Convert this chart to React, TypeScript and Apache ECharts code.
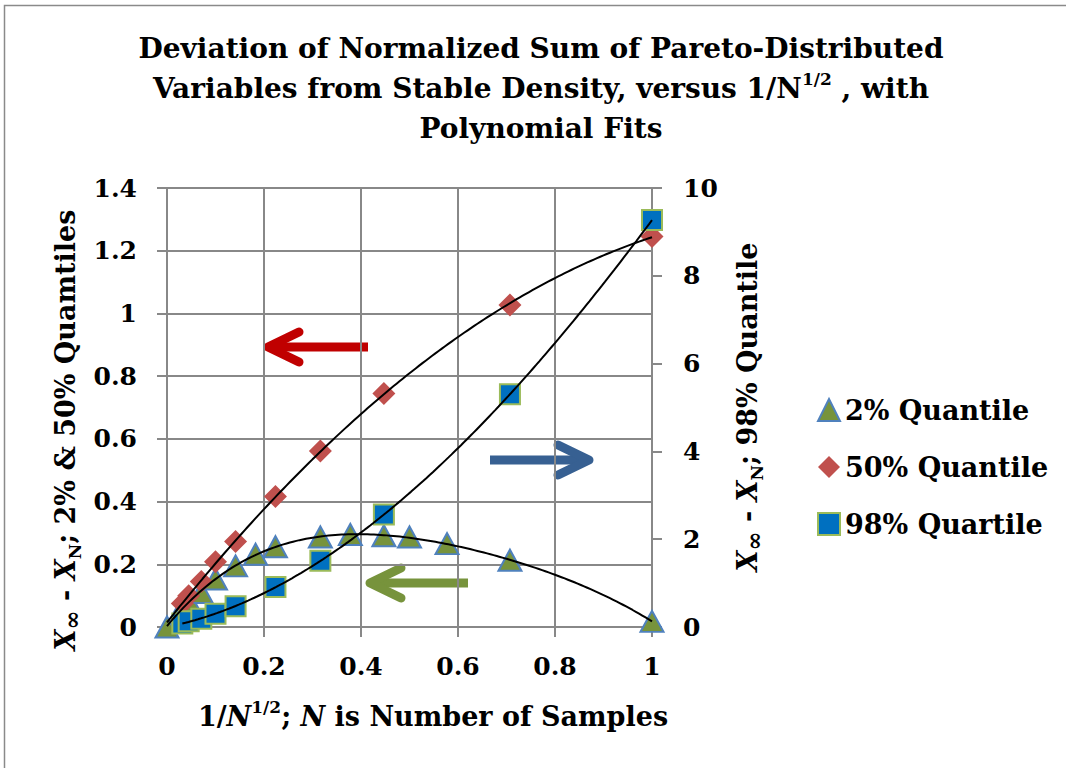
import React, { useEffect, useRef } from "react";
import * as echarts from "echarts";

// ---- data ----
const X_2PCT = [0, 0.0316, 0.0447, 0.0707, 0.1, 0.1414, 0.1826, 0.2236, 0.3162, 0.378, 0.4472, 0.5, 0.5774, 0.7071, 1];
const Y_2PCT = [0, 0.062, 0.083, 0.11, 0.153, 0.195, 0.232, 0.256, 0.287, 0.295, 0.291, 0.287, 0.266, 0.213, 0.018];
const X_50_98 = [0.0316, 0.0447, 0.0707, 0.1, 0.1414, 0.2236, 0.3162, 0.4472, 0.7071, 1];
const Y_50PCT = [0.075, 0.1, 0.145, 0.208, 0.273, 0.416, 0.561, 0.745, 1.027, 1.245];
const Y_98PCT = [0.08, 0.13, 0.19, 0.3, 0.47, 0.91, 1.51, 2.56, 5.3, 9.27];

const SERIES_NAMES = ["2% Quantile", "50% Quantile", "98% Quartile"];
const FIT_ORDER = [4, 2, 3];
const FIT_RANGE: [number, number][] = [[0, 1], [0, 1], [0.0316, 1]];

const TITLE_LINES = [
  "Deviation of Normalized Sum of Pareto-Distributed",
  "Variables from Stable Density, versus 1/N{sup|1/2} , with",
  "Polynomial Fits",
];
const LEFT_AXIS_TITLE = "{xi|X}{inf|∞} - {xi|X}{sub|N}; 2% & 50% Quamtiles";
const RIGHT_AXIS_TITLE = "{xi|X}{inf|∞} - {xi|X}{sub|N}; 98% Quantile";
const X_AXIS_TITLE = "1/{xi|N}{sup|1/2}; {xi|N} is Number of Samples";

const FONT = "'DejaVu Serif', 'Liberation Serif', serif";

function polyfit(xs: number[], ys: number[], order: number): number[] {
  const n = order + 1;
  const A: number[][] = [];
  for (let i = 0; i < n; i++) {
    const row: number[] = [];
    for (let j = 0; j < n; j++) {
      let s = 0;
      for (let k = 0; k < xs.length; k++) s += Math.pow(xs[k], i + j);
      row.push(s);
    }
    let b = 0;
    for (let k = 0; k < xs.length; k++) b += ys[k] * Math.pow(xs[k], i);
    row.push(b);
    A.push(row);
  }
  for (let c = 0; c < n; c++) {
    let p = c;
    for (let r = c + 1; r < n; r++) if (Math.abs(A[r][c]) > Math.abs(A[p][c])) p = r;
    [A[c], A[p]] = [A[p], A[c]];
    for (let r = 0; r < n; r++) {
      if (r === c) continue;
      const f = A[r][c] / A[c][c];
      for (let j = c; j <= n; j++) A[r][j] -= f * A[c][j];
    }
  }
  return A.map((row, i) => row[n] / row[i]);
}

function fitCurve(xs: number[], ys: number[], order: number, range: [number, number]) {
  const co = polyfit(xs, ys, order);
  const pts: number[][] = [];
  const steps = 150;
  for (let i = 0; i <= steps; i++) {
    const x = range[0] + ((range[1] - range[0]) * i) / steps;
    let y = 0;
    for (let k = 0; k < co.length; k++) y += co[k] * Math.pow(x, k);
    pts.push([x, y]);
  }
  return pts;
}

const zip = (xs: number[], ys: number[]) => xs.map((x, i) => [x, ys[i]]);

export default function App() {
  const ref = useRef<HTMLDivElement>(null);
  useEffect(() => {
    if (!ref.current) return;
    const chart = echarts.init(ref.current, null, { renderer: "svg" });
    const gray = "#888888";
    const baseRich = (size: number) => ({
      xi: { fontFamily: FONT, fontWeight: "bold", fontStyle: "italic", fontSize: size, fill: "#000" },
      sub: { fontFamily: FONT, fontWeight: "bold", fontSize: Math.round(size * 0.62), lineHeight: Math.round(size * 0.62), verticalAlign: "bottom", fill: "#000" },
      inf: { fontFamily: FONT, fontWeight: "bold", fontSize: Math.round(size * 0.85), lineHeight: Math.round(size * 0.7), verticalAlign: "bottom", fill: "#000" },
      sup: { fontFamily: FONT, fontWeight: "bold", fontSize: Math.round(size * 0.62), lineHeight: Math.round(size * 0.62), verticalAlign: "top", fill: "#000" },
    });
    const arrow = (x0: number, x1: number, y: number, color: string, dir: number) => {
      const tip = dir < 0 ? x0 : x1;
      const back = tip - dir * 31;
      return [
        { type: "line", shape: { x1: dir < 0 ? x0 + 6 : x0, y1: y, x2: dir < 0 ? x1 : x1 - 6, y2: y }, style: { stroke: color, lineWidth: 9, lineCap: "butt" } },
        { type: "polyline", shape: { points: [[back, y - 15], [tip, y], [back, y + 15]] }, style: { stroke: color, lineWidth: 9, lineCap: "round", lineJoin: "round", fill: null } },
      ];
    };

    const colors = ["#77933C", "#C0504D", "#0070C0"];
    const option: any = {
      animation: false,
      grid: { left: 167, right: 414, top: 188, bottom: 141, containLabel: false },
      legend: {
        data: SERIES_NAMES,
        orient: "vertical",
        left: 812,
        top: 390,
        itemWidth: 22,
        itemHeight: 22,
        itemGap: 27,
        textStyle: { fontFamily: FONT, fontWeight: "bold", fontSize: 27, color: "#000", lineHeight: 30 },
      },
      xAxis: {
        type: "value",
        min: 0,
        max: 1,
        interval: 0.2,
        axisLine: { show: true, lineStyle: { color: gray, width: 2 } },
        axisTick: { show: true, length: 10, lineStyle: { color: gray, width: 2 } },
        splitLine: { show: true, lineStyle: { color: gray, width: 2 } },
        axisLabel: { margin: 27, fontFamily: FONT, fontWeight: "bold", fontSize: 25, color: "#000" },
      },
      yAxis: [
        {
          type: "value",
          min: 0,
          max: 1.4,
          interval: 0.2,
          position: "left",
          axisLine: { show: true, lineStyle: { color: gray, width: 2 } },
          axisTick: { show: true, length: 10, lineStyle: { color: gray, width: 2 } },
          splitLine: { show: true, lineStyle: { color: gray, width: 2 } },
          axisLabel: { margin: 30, fontFamily: FONT, fontWeight: "bold", fontSize: 25, color: "#000" },
        },
        {
          type: "value",
          min: 0,
          max: 10,
          interval: 2,
          position: "right",
          axisLine: { show: true, lineStyle: { color: gray, width: 2 } },
          axisTick: { show: true, length: 10, lineStyle: { color: gray, width: 2 } },
          splitLine: { show: false },
          axisLabel: { margin: 31, fontFamily: FONT, fontWeight: "bold", fontSize: 25, color: "#000" },
        },
      ],
      series: [
        {
          name: SERIES_NAMES[0],
          type: "scatter",
          symbol: "triangle",
          symbolSize: [23, 21],
          data: zip(X_2PCT, Y_2PCT),
          itemStyle: { color: colors[0], borderColor: "#4F81BD", borderWidth: 2, opacity: 1 },
          z: 2,
        },
        {
          name: SERIES_NAMES[1],
          type: "scatter",
          symbol: "diamond",
          symbolSize: 23,
          data: zip(X_50_98, Y_50PCT),
          itemStyle: { color: colors[1], opacity: 1 },
          z: 3,
        },
        {
          name: SERIES_NAMES[2],
          type: "scatter",
          symbol: "rect",
          symbolSize: 20,
          yAxisIndex: 1,
          data: zip(X_50_98, Y_98PCT),
          itemStyle: { color: colors[2], borderColor: "#9BBB59", borderWidth: 2, opacity: 1 },
          z: 4,
        },
        {
          name: "fit2",
          type: "line",
          data: fitCurve(X_2PCT, Y_2PCT, FIT_ORDER[0], FIT_RANGE[0]),
          showSymbol: false,
          silent: true,
          lineStyle: { color: "#000", width: 2 },
          z: 5,
        },
        {
          name: "fit50",
          type: "line",
          data: fitCurve(X_50_98, Y_50PCT, FIT_ORDER[1], FIT_RANGE[1]),
          showSymbol: false,
          silent: true,
          lineStyle: { color: "#000", width: 2 },
          z: 5,
        },
        {
          name: "fit98",
          type: "line",
          yAxisIndex: 1,
          data: fitCurve(X_50_98, Y_98PCT, FIT_ORDER[2], FIT_RANGE[2]),
          showSymbol: false,
          silent: true,
          lineStyle: { color: "#000", width: 2 },
          z: 5,
        },
      ],
      graphic: [
        { type: "rect", shape: { x: 4.5, y: 5.5, width: 1200, height: 900 }, style: { fill: null, stroke: "#8a8a8a", lineWidth: 1.5 }, silent: true },
        ...TITLE_LINES.map((t, i) => ({
          type: "text",
          x: 541,
          y: 48 + i * 40,
          style: {
            text: t,
            fontFamily: FONT,
            fontWeight: "bold",
            fontSize: 28,
            lineHeight: 36,
            fill: "#000",
            align: "center",
            verticalAlign: "middle",
            rich: baseRich(28),
          },
        })),
        {
          type: "text",
          x: 65,
          y: 430,
          rotation: Math.PI / 2,
          style: {
            text: LEFT_AXIS_TITLE,
            fontFamily: FONT,
            fontWeight: "bold",
            fontSize: 27,
            lineHeight: 36,
            fill: "#000",
            align: "center",
            verticalAlign: "middle",
            rich: baseRich(27),
          },
        },
        {
          type: "text",
          x: 747,
          y: 407,
          rotation: Math.PI / 2,
          style: {
            text: RIGHT_AXIS_TITLE,
            fontFamily: FONT,
            fontWeight: "bold",
            fontSize: 27,
            lineHeight: 36,
            fill: "#000",
            align: "center",
            verticalAlign: "middle",
            rich: baseRich(27),
          },
        },
        {
          type: "text",
          x: 433,
          y: 716,
          style: {
            text: X_AXIS_TITLE,
            fontFamily: FONT,
            fontWeight: "bold",
            fontSize: 27,
            lineHeight: 36,
            fill: "#000",
            align: "center",
            verticalAlign: "middle",
            rich: baseRich(27),
          },
        },
        ...arrow(268, 368, 347, "#C00000", -1),
        ...arrow(370, 468, 583, "#77933C", -1),
        ...arrow(490, 589, 460, "#376092", 1),
      ],
    };
    chart.setOption(option);
    return () => chart.dispose();
  }, []);
  return (
    <div
      ref={ref}
      style={{ position: "absolute", left: 0, top: 0, width: 1066, height: 768, background: "#fff" }}
    />
  );
}
